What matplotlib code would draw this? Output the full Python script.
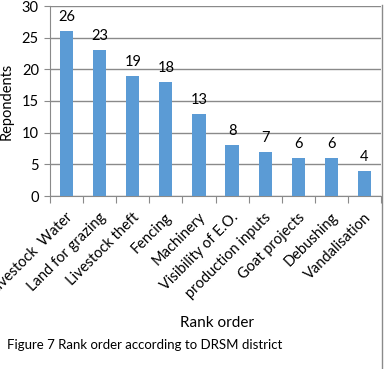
import matplotlib
matplotlib.use("Agg")
import matplotlib.pyplot as plt
from matplotlib.lines import Line2D
from matplotlib.transforms import ScaledTranslation

categories = ["Livestock  Water", "Land for grazing", "Livestock theft", "Fencing",
              "Machinery", "Visibility of E.O.", "production inputs", "Goat projects",
              "Debushing", "Vandalisation"]
values = [26, 23, 19, 18, 13, 8, 7, 6, 6, 4]
yticks = [0, 5, 10, 15, 20, 25, 30]

plt.rcParams['font.family'] = ['Lato', 'DejaVu Sans']

W, H = 384, 369
fig = plt.figure(figsize=(W / 100, H / 100), dpi=100)
ax = fig.add_axes([50 / W, 1 - 196 / H, (381 - 50) / W, (196 - 6) / H])

x = list(range(len(categories)))
ax.bar(x, values, width=0.4, color="#5B9BD5", zorder=3)
for xi, v in zip(x, values):
    ax.annotate(str(v), (xi, v), xytext=(0, 5), textcoords="offset points",
                ha="center", va="bottom", fontsize=10.5, color="black")

ax.set_xlim(-0.5, len(categories) - 0.5)
ax.set_ylim(0, 30)
ax.set_yticks(yticks)
ax.set_yticklabels([str(t) for t in yticks], fontsize=10.5)
ax.yaxis.grid(True, color="#8a8a8a", linewidth=1, zorder=0)
ax.set_axisbelow(True)

ax.set_xticks([i - 0.5 for i in range(len(categories) + 1)])
ax.set_xticklabels([])
ax.tick_params(axis="x", which="major", length=5, color="#8a8a8a")
ax.tick_params(axis="y", length=4, color="#8a8a8a", pad=4)

off = ScaledTranslation(4 / 100, -19 / 100, fig.dpi_scale_trans)
for xi, lab in zip(x, categories):
    ax.text(xi, 0, lab, transform=ax.get_xaxis_transform() + off, rotation=45,
            ha="right", va="center", rotation_mode="anchor", fontsize=10.5,
            clip_on=False)

for s in ["top", "right"]:
    ax.spines[s].set_visible(False)
for s in ["left", "bottom"]:
    ax.spines[s].set_color("#8a8a8a")

ax.set_ylabel("Repondents", fontsize=10.5, labelpad=6)
fig.text(217 / W, 1 - 323 / H, "Rank order", ha="center", va="center", fontsize=11)
fig.text(7 / W, 1 - 345 / H, "Figure 7 Rank order according to DRSM district",
         ha="left", va="center", fontsize=9.5)

fig.add_artist(Line2D([381.5 / W, 381.5 / W], [0, 1 - 5 / H], transform=fig.transFigure,
                      color="#8a8a8a", linewidth=1))

fig.savefig("out.png", dpi=100)
